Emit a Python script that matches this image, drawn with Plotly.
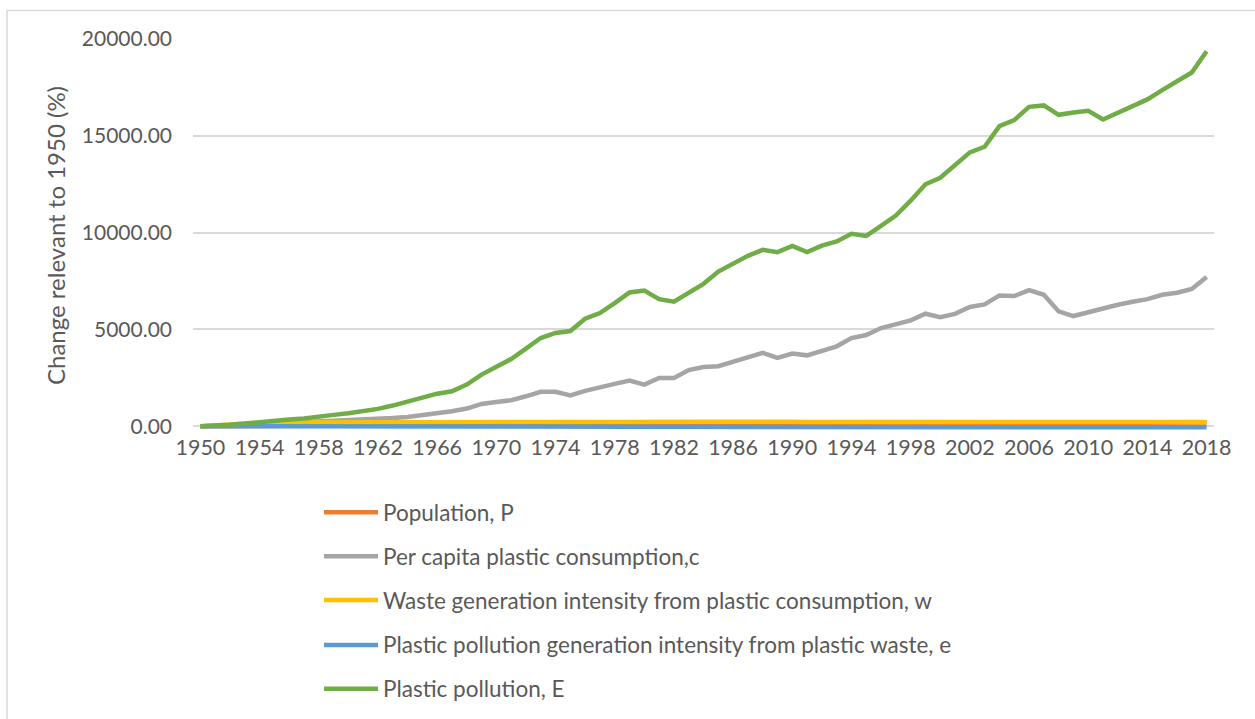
import plotly.graph_objects as go

# Years on the category axis
years = list(range(1950, 2019))

# Change relative to 1950 (%) for each driver
population = [
    0, 1.8, 3.6, 5.5, 7.4, 9.4, 11.4, 13.5, 15.6, 17.6,
    19.5, 21.3, 23.5, 26.0, 28.6, 31.3, 34.0, 36.7, 39.5, 42.4,
    45.4, 48.4, 51.3, 54.2, 57.0, 59.7, 62.4, 65.0, 67.7, 70.4,
    73.2, 76.0, 78.9, 81.9, 84.8, 87.9, 91.1, 94.4, 97.7, 101.0,
    104.4, 107.6, 110.8, 113.8, 116.9, 119.9, 122.8, 125.8, 128.7, 131.5,
    134.4, 137.2, 140.0, 142.9, 145.7, 148.6, 151.4, 154.3, 157.2, 160.1,
    163.1, 166.0, 169.0, 172.0, 174.9, 177.8, 180.7, 183.6, 186.5,
]

per_capita_consumption = [
    0, 15, 40, 70, 100, 140, 170, 200, 230, 260,
    290, 320, 360, 420, 480, 560, 640, 775, 910, 1150,
    1255, 1340, 1545, 1775, 1775, 1585, 1825, 1980, 2185, 2355,
    2150, 2495, 2495, 2900, 3060, 3095, 3320, 3575, 3785, 3525,
    3750, 3660, 3920, 4125, 4555, 4710, 5070, 5295, 5465, 5810,
    5630, 5800, 6155, 6290, 6755, 6720, 7030, 6790, 5930, 5690,
    5895, 6050, 6275, 6430, 6565, 6790, 6895, 7085, 7700,
]

waste_intensity = [
    0, 50, 100, 140, 170, 185, 195, 200, 205, 205,
    205, 205, 205, 205, 210, 210, 210, 210, 210, 210,
    210, 210, 210, 215, 230, 235, 225, 215, 215, 225,
    235, 220, 220, 230, 225, 225, 235, 240, 240, 235,
    225, 220, 220, 205, 195, 190, 190, 195, 200, 205,
    210, 215, 215, 215, 215, 220, 225, 230, 240, 245,
    245, 245, 230, 220, 215, 215, 215, 215, 215,
]

pollution_intensity = [
    0, -2, -4, -6, -8, -10, -12, -14, -15, -16,
    -17, -18, -19, -20, -21, -22, -23, -24, -25, -26,
    -27, -28, -29, -30, -31, -32, -33, -34, -35, -36,
    -37, -38, -39, -40, -41, -42, -43, -44, -45, -46,
    -47, -48, -49, -50, -51, -52, -53, -54, -55, -56,
    -57, -58, -59, -60, -60, -60, -60, -60, -60, -60,
    -60, -60, -60, -60, -60, -60, -60, -60, -60,
]

plastic_pollution = [
    0, 20, 70, 140, 225, 290, 345, 395, 465, 585,
    670, 775, 895, 1065, 1255, 1445, 1680, 1800, 2150, 2665,
    3045, 3470, 4005, 4555, 4815, 4915, 5550, 5845, 6360, 6910,
    7010, 6565, 6430, 6920, 7355, 7990, 8420, 8800, 9110, 8990,
    9315, 8990, 9330, 9540, 9935, 9830, 10345, 10880, 11650, 12495,
    12835, 13520, 14145, 14435, 15500, 15810, 16495, 16570, 16085, 16205,
    16290, 15845, 16205, 16530, 16880, 17355, 17785, 18270, 19370,
]

series_names = [
    "Population, P",
    "Per capita plastic consumption,c",
    "Waste generation intensity from plastic consumption, w",
    "Plastic pollution generation intensity from plastic waste, e",
    "Plastic pollution, E",
]
series_values = [population, per_capita_consumption, waste_intensity,
                 pollution_intensity, plastic_pollution]
series_colors = ["#ED7D31", "#A5A5A5", "#FFC000", "#5B9BD5", "#70AD47"]

y_ticks = [0, 5000, 10000, 15000, 20000]
x_ticks = list(range(1950, 2019, 4))

TEXT = "#595959"
GRID = "#D9D9D9"
FONT = "Lato"
LINE_W = 4.5

# Figure and plot-area geometry (pixels)
W, H = 1255, 719
L, R, T, B = 193, 41, 38.5, 286.5
PW, PH = W - L - R, H - T - B


def px(xp):
    return (xp - L) / PW


def py(yp):
    return (H - B - yp) / PH


fig = go.Figure()
for name, vals, col in zip(series_names, series_values, series_colors):
    fig.add_trace(go.Scatter(
        x=years, y=vals, name=name, mode="lines",
        line=dict(color=col, width=LINE_W),
        showlegend=False,
    ))

# Legend drawn below the chart: swatch line + label
legend_rows = [513, 557, 601, 646, 690]
shapes = []
annotations = []
for name, col, yr in zip(series_names, series_colors, legend_rows):
    shapes.append(dict(
        type="line", xref="paper", yref="paper",
        x0=px(324), x1=px(378), y0=py(yr), y1=py(yr),
        line=dict(color=col, width=LINE_W),
    ))
    annotations.append(dict(
        xref="paper", yref="paper", x=px(381), y=py(yr),
        xanchor="left", yanchor="middle", showarrow=False,
        text=name, font=dict(family=FONT, size=22.5, color=TEXT),
    ))

# Chart frame
shapes.append(dict(
    type="rect", xref="paper", yref="paper", layer="below",
    x0=px(7), x1=px(1262), y0=py(10), y1=py(730),
    line=dict(color=GRID, width=1.5), fillcolor="rgba(0,0,0,0)",
))

fig.update_layout(
    width=W, height=H,
    margin=dict(l=L, r=R, t=T, b=B, pad=0),
    paper_bgcolor="white", plot_bgcolor="white",
    font=dict(family=FONT, color=TEXT),
    shapes=shapes, annotations=annotations,
    showlegend=False,
)

fig.update_xaxes(
    range=[1949.5, 2018.5], tickvals=x_ticks,
    ticktext=[str(v) for v in x_ticks],
    showgrid=False, zeroline=False, showline=False, ticks="",
    tickfont=dict(family=FONT, size=21.5, color=TEXT),
)

fig.update_yaxes(
    range=[-300, 20000], tickvals=y_ticks, tickformat=".2f",
    showgrid=True, gridcolor=GRID, gridwidth=1.5,
    zeroline=False, showline=False, ticks="",
    ticklabelstandoff=20,
    tickfont=dict(family=FONT, size=21, color=TEXT),
    title=dict(text="Change relevant to 1950 (%)", standoff=9,
               font=dict(family=FONT, size=24, color=TEXT)),
)

fig.write_html("out.html")
